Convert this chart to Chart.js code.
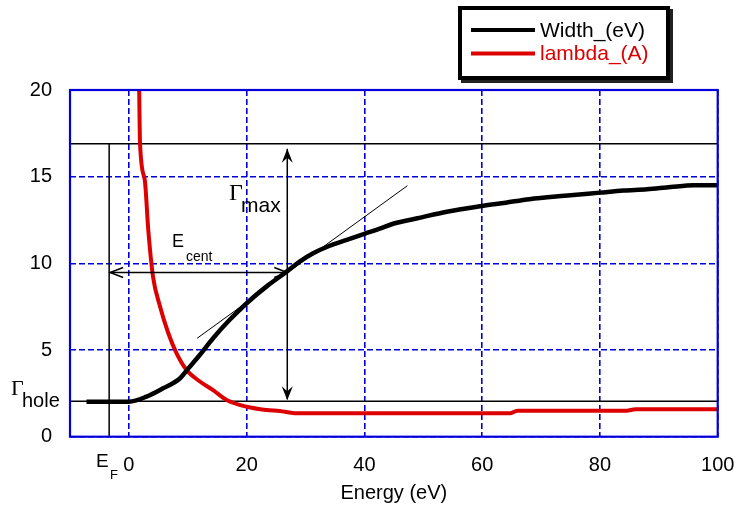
<!DOCTYPE html>
<html>
<head>
<meta charset="utf-8">
<script src="https://cdn.jsdelivr.net/npm/chart.js"></script>
<style>
  html, body { margin: 0; padding: 0; background: #fff; }
  #wrap { width: 734px; height: 508px; }
</style>
</head>
<body>
<div id="wrap"><canvas id="chart" width="734" height="508"></canvas></div>
<script>
// Width_(eV) curve
const widthEnergy = [-7.2, 0, 3.0, 5.8, 8.7, 10, 12, 14.3, 17, 20, 23.5, 26.8, 29, 31.3, 34, 37, 40, 42.6, 45, 49, 54, 60, 64, 68, 74, 80, 84, 88, 92, 96, 100];
const widthValues = [2.02, 2.02, 2.31, 2.79, 3.37, 3.9, 4.7, 5.68, 6.7, 7.7, 8.7, 9.52, 10.1, 10.58, 11.0, 11.35, 11.7, 12.0, 12.3, 12.6, 12.98, 13.31, 13.5, 13.7, 13.9, 14.08, 14.2, 14.27, 14.4, 14.5, 14.5];

// lambda_(A) curve
const lambdaEnergy = [1.75, 1.87, 2.7, 3.3, 4.1, 5.3, 6.7, 8.1, 9.8, 12, 14.3, 16.6, 20, 23.4, 25.6, 28.5, 64.7, 66, 84.5, 86, 100];
const lambdaValues = [20, 17.1, 14.8, 11.9, 9.23, 7.5, 5.97, 4.81, 3.85, 3.2, 2.69, 2.12, 1.73, 1.54, 1.48, 1.35, 1.35, 1.5, 1.5, 1.58, 1.58];

const xTicks = [0, 20, 40, 60, 80, 100];
const yTicks = [0, 5, 10, 15, 20];

// construction lines
const gammaHole = 2.05;
const gammaMax = 16.9;
const eFermi = -3.35;
const eCent = 26.9;
const tangentX = [11.6, 47.3];
const tangentY = [5.68, 14.48];

const blue = '#0000dd';
const red = '#dd0000';
const sans = "'Liberation Sans', Arial, sans-serif";
const serif = "'Liberation Serif', 'Times New Roman', serif";

function barb(ctx, x, y, angle) {
  ctx.save();
  ctx.translate(x, y);
  ctx.rotate(angle);
  ctx.beginPath();
  ctx.moveTo(0, 0);
  ctx.lineTo(-14, -5.5);
  ctx.lineTo(-9, 0);
  ctx.lineTo(-14, 5.5);
  ctx.closePath();
  ctx.fill();
  ctx.restore();
}

function chevron(ctx, x, y, angle) {
  ctx.save();
  ctx.translate(x, y);
  ctx.rotate(angle);
  ctx.beginPath();
  ctx.moveTo(-13, -5);
  ctx.lineTo(0, 0);
  ctx.lineTo(-13, 5);
  ctx.stroke();
  ctx.restore();
}

const drawing = {
  id: 'drawing',
  beforeDatasetsDraw(chart) {
    const { ctx, chartArea: a, scales: { x, y } } = chart;
    ctx.save();
    ctx.strokeStyle = '#000';
    ctx.lineWidth = 1.5;
    ctx.beginPath();
    ctx.moveTo(a.left, y.getPixelForValue(gammaMax));
    ctx.lineTo(a.right, y.getPixelForValue(gammaMax));
    ctx.moveTo(a.left, y.getPixelForValue(gammaHole));
    ctx.lineTo(a.right, y.getPixelForValue(gammaHole));
    ctx.moveTo(x.getPixelForValue(eFermi), y.getPixelForValue(gammaMax));
    ctx.lineTo(x.getPixelForValue(eFermi), a.bottom);
    ctx.stroke();

    ctx.lineWidth = 1;
    ctx.beginPath();
    ctx.moveTo(x.getPixelForValue(tangentX[0]), y.getPixelForValue(tangentY[0]));
    ctx.lineTo(x.getPixelForValue(tangentX[1]), y.getPixelForValue(tangentY[1]));
    ctx.stroke();
    ctx.restore();
  },
  afterDatasetsDraw(chart) {
    const { ctx, scales: { x, y } } = chart;
    const xc = x.getPixelForValue(eCent);
    const xf = x.getPixelForValue(eFermi);
    const yTop = y.getPixelForValue(gammaMax);
    const yBot = y.getPixelForValue(gammaHole);
    const yMid = y.getPixelForValue((gammaMax + gammaHole) / 2);
    ctx.save();
    ctx.strokeStyle = '#000';
    ctx.fillStyle = '#000';
    ctx.lineWidth = 1.5;
    ctx.beginPath();
    ctx.moveTo(xc, yTop + 5);
    ctx.lineTo(xc, yBot - 2);
    ctx.moveTo(xf + 1, yMid);
    ctx.lineTo(xc, yMid);
    ctx.stroke();
    barb(ctx, xc, yTop + 5, -Math.PI / 2);
    barb(ctx, xc, yBot - 1, Math.PI / 2);
    chevron(ctx, xf + 1, yMid, Math.PI);
    chevron(ctx, xc, yMid, 0);

    ctx.textBaseline = 'alphabetic';
    ctx.textAlign = 'left';
    // Gamma hole
    ctx.font = '22px ' + serif;
    ctx.fillText('\u0393', 11, 395);
    ctx.font = '20px ' + sans;
    ctx.fillText('hole', 22, 407);
    // Gamma max
    ctx.font = '24px ' + serif;
    ctx.fillText('\u0393', 229, 200);
    ctx.font = '21px ' + sans;
    ctx.fillText('max', 241, 212);
    // E cent
    ctx.font = '18px ' + sans;
    ctx.fillText('E', 172, 247);
    ctx.font = '14px ' + sans;
    ctx.fillText('cent', 186, 261);
    // E_F under the axis
    ctx.font = '19px ' + sans;
    ctx.fillText('E', 96, 467);
    ctx.font = '13px ' + sans;
    ctx.fillText('F', 110, 479);
    ctx.restore();
  },
  afterDraw(chart) {
    const { ctx, chartArea: a } = chart;
    ctx.save();
    // plot frame
    ctx.strokeStyle = blue;
    ctx.lineWidth = 2.2;
    ctx.strokeRect(a.left, a.top, a.right - a.left, a.bottom - a.top);

    // legend box
    ctx.fillStyle = '#222';
    ctx.fillRect(461, 9, 212, 74);
    ctx.fillStyle = '#fff';
    ctx.fillRect(458, 6, 212, 74);
    ctx.strokeStyle = '#000';
    ctx.lineWidth = 4;
    ctx.strokeRect(460, 8, 208, 70);
    chart.data.datasets.forEach((ds, i) => {
      const yy = 30 + i * 23.5;
      ctx.strokeStyle = ds.borderColor;
      ctx.lineWidth = 4;
      ctx.beginPath();
      ctx.moveTo(471, yy);
      ctx.lineTo(535, yy);
      ctx.stroke();
      ctx.fillStyle = ds.borderColor;
      ctx.font = '21px ' + sans;
      ctx.textBaseline = 'middle';
      ctx.fillText(ds.label, 540, yy + 1);
    });
    ctx.restore();
  }
};

new Chart(document.getElementById('chart'), {
  type: 'line',
  data: {
    datasets: [
      {
        label: 'Width_(eV)',
        data: widthEnergy.map((e, i) => ({ x: e, y: widthValues[i] })),
        borderColor: '#000',
        borderWidth: 4.5,
        pointRadius: 0,
        cubicInterpolationMode: 'monotone'
      },
      {
        label: 'lambda_(A)',
        data: lambdaEnergy.map((e, i) => ({ x: e, y: lambdaValues[i] })),
        borderColor: red,
        borderWidth: 4,
        pointRadius: 0,
        cubicInterpolationMode: 'monotone'
      }
    ]
  },
  options: {
    responsive: false,
    animation: false,
    devicePixelRatio: 1,
    layout: { padding: { left: 0, right: 16.3, top: 90, bottom: 0 } },
    plugins: { legend: { display: false }, tooltip: { enabled: false } },
    scales: {
      x: {
        type: 'linear',
        min: -10,
        max: 100,
        afterBuildTicks: s => { s.ticks = xTicks.map(v => ({ value: v })); },
        afterFit: s => { s.height = 71.3; s.paddingLeft = 0; s.paddingRight = 0; },
        grid: { color: blue, lineWidth: 1.6, drawTicks: false },
        border: { display: false, dash: [6, 3] },
        ticks: { color: '#000', font: { family: sans, size: 20 }, padding: 17, maxRotation: 0 },
        title: { display: true, text: 'Energy (eV)', color: '#000', font: { family: sans, size: 20 }, padding: { top: 0, bottom: 3 } }
      },
      y: {
        min: 0,
        max: 20,
        afterBuildTicks: s => { s.ticks = yTicks.map(v => ({ value: v })); },
        afterFit: s => { s.width = 70; },
        grid: { color: blue, lineWidth: 1.6, drawTicks: false },
        border: { display: false, dash: [6, 3] },
        ticks: { color: '#000', font: { family: sans, size: 20 }, padding: 18 }
      }
    }
  },
  plugins: [drawing]
});
</script>
</body>
</html>
